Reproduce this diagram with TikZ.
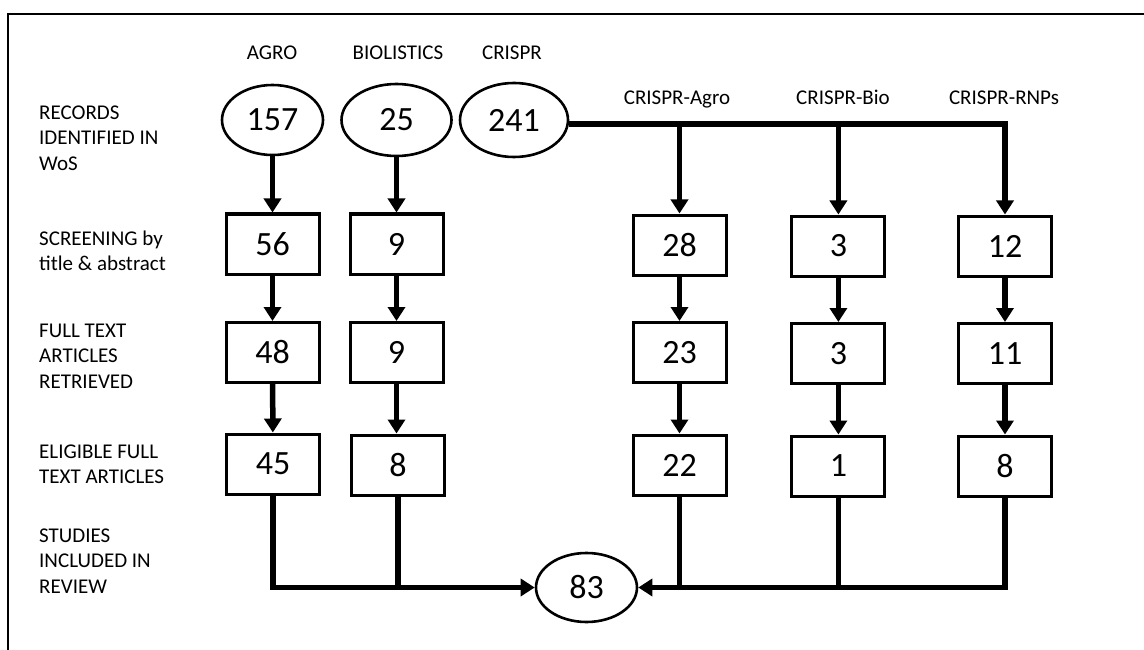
\documentclass[tikz,border=0pt]{standalone}
\usepackage{fontspec}
\setmainfont{Carlito}
\usetikzlibrary{shapes.geometric,arrows.meta}
\begin{document}
\begin{tikzpicture}[x=1pt,y=-1pt,
  lbl/.style={font=\fontsize{21}{25.3}\selectfont, inner sep=0pt, align=left, anchor=west},
  head/.style={font=\fontsize{21}{25}\selectfont, inner sep=0pt, anchor=base},
  num/.style={font=\fontsize{34}{40}\selectfont},
  stagebox/.style={num, draw, line width=3pt, minimum width=93pt, minimum height=60pt, inner sep=0pt},
  oval/.style={num, ellipse, draw, line width=2.6pt, inner sep=0pt},
  link/.style={line width=5.5pt},
  arr/.style={link, -{Triangle[length=14pt,width=17pt]}}]
\useasboundingbox (0,0) rectangle (1144,650);
\draw[line width=2.7pt] (8,655) -- (8,14) -- (1150,14);

% column headings
\node[head] (tAgro) at (272,60) {AGRO};
\node[head] (tBio) at (398,60) {BIOLISTICS};
\node[head] (tCr) at (512,60) {CRISPR};
\node[head] (tCA) at (677,105) {CRISPR-Agro};
\node[head] (tCB) at (843,105) {CRISPR-Bio};
\node[head] (tCR) at (1004,105) {CRISPR-RNPs};

% row labels
\node[lbl] (l1) at (39,138) {RECORDS\\IDENTIFIED IN\\WoS};
\node[lbl] (l2) at (39,251) {SCREENING by\\title \& abstract};
\node[lbl] (l3) at (39,356) {FULL TEXT\\ARTICLES\\RETRIEVED};
\node[lbl] (l4) at (39,464.5) {ELIGIBLE FULL\\TEXT ARTICLES};
\node[lbl] (l5) at (39,561) {STUDIES\\INCLUDED IN\\REVIEW};

% records
\node[oval, minimum width=101pt, minimum height=70pt] (e157) at (272.5,120) {157};
\node[oval, minimum width=110pt, minimum height=72pt] (e25) at (396.5,120) {25};
\node[oval, minimum width=108pt, minimum height=74pt] (e241) at (514,120) {241};

% AGRO column
\node[stagebox] (a1) at (272.5,244) {56};
\node[stagebox] (a2) at (272.5,352.5) {48};
\node[stagebox] (a3) at (273,464) {45};
% BIOLISTICS column
\node[stagebox] (b1) at (396.5,244) {9};
\node[stagebox] (b2) at (396.5,352.5) {9};
\node[stagebox] (b3) at (398,465) {8};
% CRISPR-Agro column
\node[stagebox] (c1) at (679.5,245) {28};
\node[stagebox] (c2) at (679.5,352.5) {23};
\node[stagebox] (c3) at (679.5,465) {22};
% CRISPR-Bio column
\node[stagebox] (d1) at (838.4,246) {3};
\node[stagebox] (d2) at (838.4,353.5) {3};
\node[stagebox] (d3) at (838.4,466) {1};
% CRISPR-RNPs column
\node[stagebox] (r1) at (1005,246) {12};
\node[stagebox] (r2) at (1005,353.5) {11};
\node[stagebox] (r3) at (1005,466) {8};

% included
\node[oval, minimum width=101pt, minimum height=69pt] (e83) at (586.5,587.5) {83};

% vertical flows
\draw[arr] (e157) -- (a1);
\draw[arr] (a1) -- (a2);
\draw[arr] (a2) -- (a3);
\draw[arr] (e25) -- (b1);
\draw[arr] (b1) -- (b2);
\draw[arr] (b2.south) -- (b2.south |- b3.north);
\draw[arr] (c1) -- (c2);
\draw[arr] (c2) -- (c3);
\draw[arr] (d1) -- (d2);
\draw[arr] (d2) -- (d3);
\draw[arr] (r1) -- (r2);
\draw[arr] (r2) -- (r3);

% CRISPR split
\coordinate (split) at ([yshift=-4pt]e241.east);
\draw[arr] (split) -| (r1.north);
\draw[arr] (split -| c1.north) -- (c1.north);
\draw[arr] (split -| d1.north) -- (d1.north);

% merge into included
\draw[arr] (a3.south) |- (e83.west);
\draw[link] (b3.south) -- (b3.south |- e83.west);
\draw[arr] (r3.south) |- (e83.east);
\draw[link] (c3.south) -- (c3.south |- e83.east);
\draw[link] (d3.south) -- (d3.south |- e83.east);
\end{tikzpicture}
\end{document}
